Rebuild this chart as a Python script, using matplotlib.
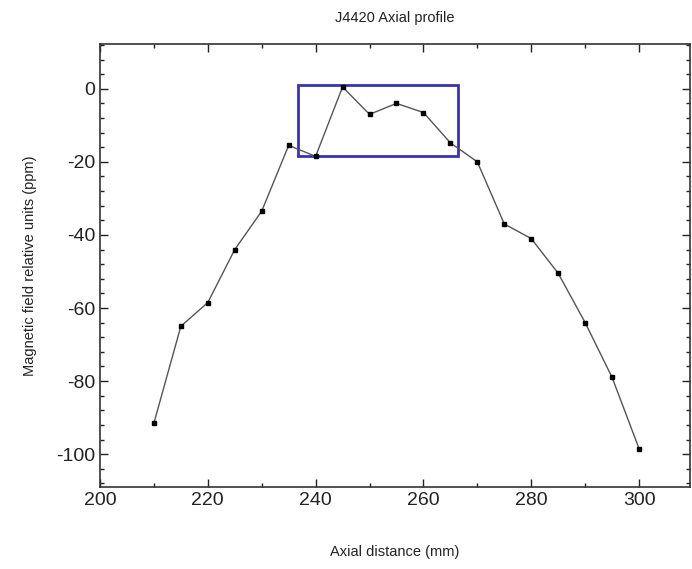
# J4420 axial profile
# plot.py

import matplotlib
matplotlib.use("Agg")
import matplotlib.pyplot as plt
from matplotlib.patches import Rectangle
from matplotlib.ticker import MultipleLocator

# data
axial_mm = [210, 215, 220, 225, 230, 235, 240, 245, 250, 255,
            260, 265, 270, 275, 280, 285, 290, 295, 300]
field_ppm = [-91.5, -65, -58.5, -44, -33.5, -15.5, -18.5, 0.5, -7, -4,
             -6.5, -14.8, -20, -37, -41, -50.5, -64, -79, -98.5]

# highlighted region (x0, x1, y0, y1)
box_x = [236.7, 266.5]
box_y = [-18.5, 1.0]

plt.rcParams["font.family"] = ["Liberation Sans", "DejaVu Sans"]
plt.rcParams["axes.unicode_minus"] = False

fig = plt.figure(figsize=(6.92, 5.69), dpi=100)
ax = fig.add_axes([0.1445, 0.144, 0.853, 0.779])

ax.plot(axial_mm, field_ppm, color="#555555", linewidth=1.0,
        marker="s", markersize=2.3, markerfacecolor="black",
        markeredgecolor="black")

ax.add_patch(Rectangle((box_x[0], box_y[0]), box_x[1] - box_x[0],
                       box_y[1] - box_y[0], fill=False,
                       edgecolor="#3a32b0", linewidth=2.0))

ax.set_xlim(200, 309.5)
ax.set_ylim(-109, 12.3)
ax.xaxis.set_major_locator(MultipleLocator(20))
ax.xaxis.set_minor_locator(MultipleLocator(10))
ax.yaxis.set_major_locator(MultipleLocator(20))
ax.yaxis.set_minor_locator(MultipleLocator(4))
ax.tick_params(which="both", direction="in", top=True, right=True,
               labelsize=14, colors="#222222")
ax.tick_params(which="major", length=6, width=1)
ax.tick_params(which="minor", length=3, width=1)
for sp in ax.spines.values():
    sp.set_color("#333333")
    sp.set_linewidth(1.2)

ax.set_title("J4420 Axial profile", fontsize=10.5, pad=16, color="#222222")
ax.set_xlabel("Axial distance (mm)", fontsize=10.5, labelpad=26,
              color="#222222")
ax.set_ylabel("Magnetic field relative units (ppm)", fontsize=10.5,
              labelpad=14, color="#222222")

fig.savefig("out.png", dpi=100)
